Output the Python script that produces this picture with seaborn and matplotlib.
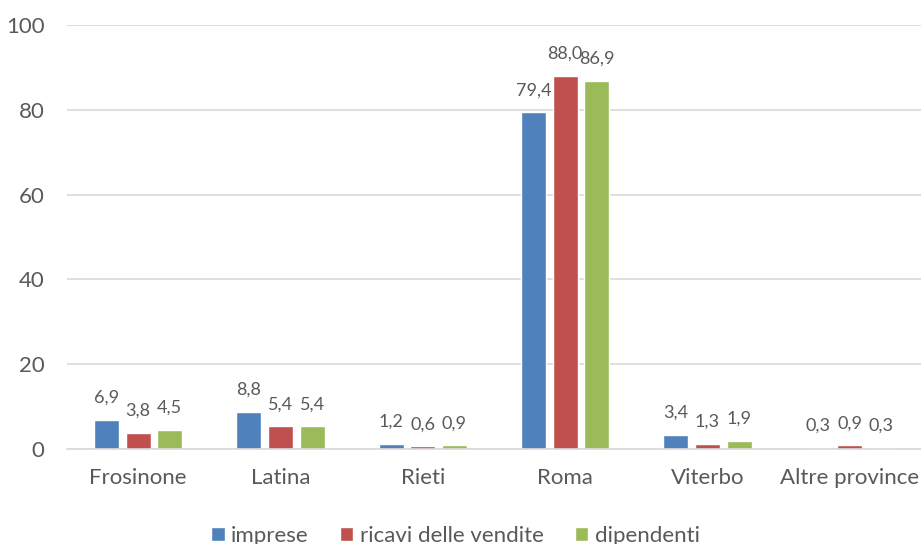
import matplotlib
matplotlib.use("Agg")
import matplotlib.pyplot as plt
import seaborn as sns
import pandas as pd

province = ["Frosinone", "Latina", "Rieti", "Roma", "Viterbo", "Altre province"]
imprese = [6.9, 8.8, 1.2, 79.4, 3.4, 0.3]
ricavi = [3.8, 5.4, 0.6, 88.0, 1.3, 0.9]
dipendenti = [4.5, 5.4, 0.9, 86.9, 1.9, 0.3]
serie = ["imprese", "ricavi delle vendite", "dipendenti"]
colori = ["#4F81BD", "#C0504D", "#9BBB59"]

df = pd.DataFrame({
    "provincia": province * 3,
    "serie": [serie[0]] * 6 + [serie[1]] * 6 + [serie[2]] * 6,
    "valore": imprese + ricavi + dipendenti,
})

sns.set_theme(style="white")
plt.rcParams["font.family"] = ["Lato", "DejaVu Sans"]
testo = "#595959"

fig = plt.figure(figsize=(9.21, 5.44), dpi=100)
ax = fig.add_axes([0.0727, 0.1746, 0.9273, 0.7794])

sns.barplot(data=df, x="provincia", y="valore", hue="serie", order=province,
            hue_order=serie, palette=colori, width=0.667, gap=0.21,
            saturation=1, ax=ax, legend=True)

for cont in ax.containers:
    ax.bar_label(cont, labels=[f"{v:.1f}".replace(".", ",") for v in cont.datavalues],
                 padding=10, fontsize=13, color=testo)

ax.set_ylim(0, 100)
ax.set_xlim(-0.5, 5.5)
ax.set_yticks([0, 20, 40, 60, 80, 100])
ax.yaxis.grid(True, color="#D9D9D9", linewidth=1.2)
ax.set_axisbelow(True)
for s in ["top", "right", "left"]:
    ax.spines[s].set_visible(False)
ax.spines["bottom"].set_color("#D9D9D9")
ax.spines["bottom"].set_linewidth(1.2)
ax.tick_params(axis="both", length=0, labelsize=16, colors=testo)
ax.tick_params(axis="y", pad=16)
ax.tick_params(axis="x", pad=14)
ax.set_xlabel("")
ax.set_ylabel("")

handles, labels = ax.get_legend_handles_labels()
ax.legend(handles, labels, loc="lower center", bbox_to_anchor=(0.455, -0.275),
          ncol=3, frameon=False, fontsize=16, handlelength=0.6, handleheight=0.6,
          handletextpad=0.3, columnspacing=1.4, labelcolor=testo)

fig.savefig("out.png", dpi=100)
